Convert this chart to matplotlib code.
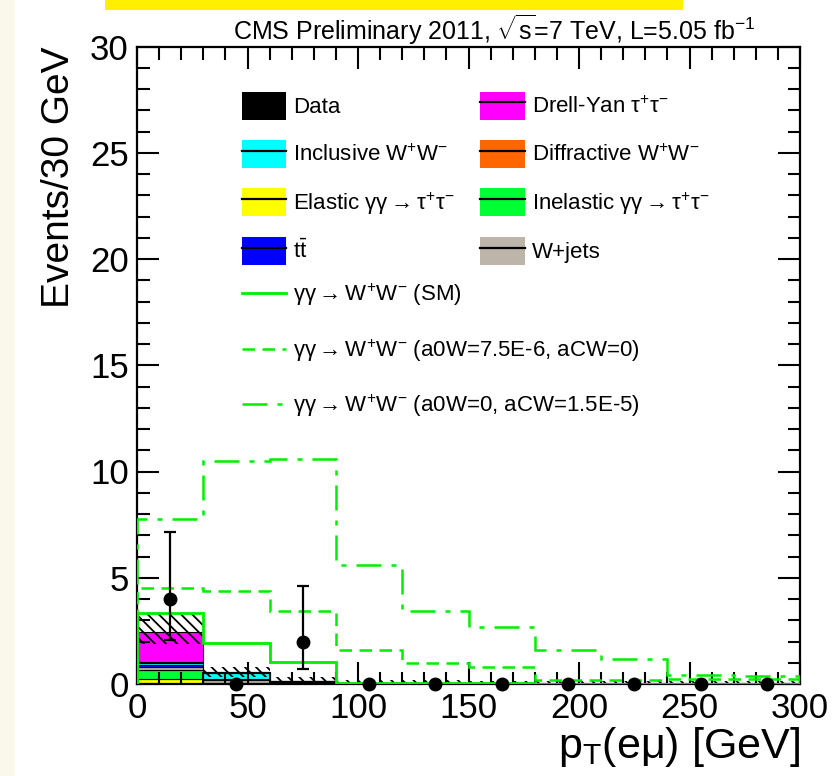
"""pT(e mu) distribution, CMS gamma gamma -> WW style stack plot."""

import matplotlib

matplotlib.use("Agg")
import matplotlib.pyplot as plt
import numpy as np
from matplotlib.lines import Line2D
from matplotlib.patches import Patch, Rectangle
from matplotlib.ticker import MultipleLocator

plt.rcParams["font.family"] = ["Liberation Sans", "DejaVu Sans"]
plt.rcParams["mathtext.fontset"] = "custom"
plt.rcParams["mathtext.rm"] = "Liberation Sans"
plt.rcParams["mathtext.it"] = "Liberation Sans:italic"
plt.rcParams["hatch.linewidth"] = 1.3

# --- data (events per 30 GeV bin) ---
bin_edges = [0, 30, 60, 90, 120, 150, 180, 210, 240, 270, 300]

elastic_tautau = [0.23, 0.01, 0.0, 0.0, 0.0, 0.0, 0.0, 0.0, 0.0, 0.0]
inelastic_tautau = [0.45, 0.02, 0.0, 0.0, 0.0, 0.0, 0.0, 0.0, 0.0, 0.0]
w_jets = [0.12, 0.15, 0.04, 0.0, 0.0, 0.0, 0.0, 0.0, 0.0, 0.0]
ttbar = [0.10, 0.05, 0.05, 0.01, 0.01, 0.0, 0.0, 0.0, 0.0, 0.0]
inclusive_ww = [0.10, 0.30, 0.05, 0.01, 0.01, 0.01, 0.0, 0.0, 0.0, 0.0]
diffractive_ww = [0.05, 0.02, 0.01, 0.0, 0.0, 0.0, 0.0, 0.0, 0.0, 0.0]
drell_yan = [1.40, 0.02, 0.0, 0.0, 0.0, 0.0, 0.0, 0.0, 0.0, 0.0]

unc_low = [1.90, 0.35, 0.0, 0.0, 0.0, 0.0, 0.0, 0.0, 0.0, 0.0]
unc_high = [3.35, 0.80, 0.35, 0.20, 0.20, 0.15, 0.15, 0.15, 0.15, 0.15]

sm_signal = [3.35, 1.93, 1.05, 0.04, 0.03, 0.03, 0.02, 0.02, 0.02, 0.02]
a0w_signal = [4.50, 4.40, 3.45, 1.60, 0.97, 0.80, 0.20, 0.20, 0.22, 0.22]
acw_signal = [7.77, 10.50, 10.60, 5.58, 3.45, 2.69, 1.60, 1.16, 0.42, 0.40]

data_x = [15, 45, 75, 105, 135, 165, 195, 225, 255, 285]
data_y = [4, 0, 2, 0, 0, 0, 0, 0, 0, 0]
data_err_lo = [1.91, 0, 1.29, 0, 0, 0, 0, 0, 0, 0]
data_err_hi = [3.16, 0, 2.63, 0, 0, 0, 0, 0, 0, 0]

arrow = "$\\rightarrow$"
stack = [
    (f"Elastic γγ{arrow}τ$^{{+}}$τ$^{{-}}$", elastic_tautau, "#ffff00"),
    (f"Inelastic γγ{arrow}τ$^{{+}}$τ$^{{-}}$", inelastic_tautau, "#00ff33"),
    ("W+jets", w_jets, "#beb5aa"),
    ("t$\\bar{\\rm t}$", ttbar, "#0000ff"),
    ("Inclusive W$^{+}$W$^{-}$", inclusive_ww, "#00ffff"),
    ("Diffractive W$^{+}$W$^{-}$", diffractive_ww, "#ff6600"),
    ("Drell-Yan τ$^{+}$τ$^{-}$", drell_yan, "#ff00ff"),
]
green = "#00ee00"

fig = plt.figure(figsize=(8.39, 7.76), dpi=100)
fig.patches.append(Rectangle((0, 0), 15 / 839, 1, transform=fig.transFigure,
                             facecolor="#faf8e8", edgecolor="none", zorder=-5))
fig.patches.append(Rectangle((105 / 839, 1 - 10 / 776), 578 / 839, 10 / 776,
                             transform=fig.transFigure, facecolor="#fff000",
                             edgecolor="none", zorder=-5))
ax = fig.add_axes([137 / 839, 1 - 684 / 776, 663 / 839, 637.5 / 776])

edges = np.asarray(bin_edges, dtype=float)
widths = np.diff(edges)
bottom = np.zeros(len(widths))
handles = {}
for label, values, color in stack:
    vals = np.asarray(values)
    ax.bar(edges[:-1], vals, width=widths, bottom=bottom, align="edge",
           color=color, edgecolor="black", linewidth=0.8, zorder=1)
    bottom += vals
    handles[label] = (Patch(facecolor=color, edgecolor="none"),
                      Line2D([], [], color="black", lw=1.6))

lo = np.asarray(unc_low)
hi = np.asarray(unc_high)
ax.bar(edges[:-1], hi - lo, width=widths, bottom=lo, align="edge", fill=False,
       hatch="\\\\\\", edgecolor="black", linewidth=0, zorder=2)

ax.stairs(sm_signal, edges, color=green, lw=2, zorder=3)
ax.stairs(a0w_signal, edges, color=green, lw=1.8, linestyle=(0, (5, 3)), zorder=3)
ax.stairs(acw_signal, edges, color=green, lw=1.8, linestyle=(0, (10, 4, 2, 4)), zorder=3)

ax.errorbar(data_x, data_y, yerr=[data_err_lo, data_err_hi], fmt="o", color="black",
            ms=9, elinewidth=1.6, capsize=4, capthick=1.6, zorder=4, clip_on=False)

ax.set_xlim(0, 300)
ax.set_ylim(0, 30)
ax.xaxis.set_major_locator(MultipleLocator(50))
ax.xaxis.set_minor_locator(MultipleLocator(10))
ax.yaxis.set_major_locator(MultipleLocator(5))
ax.yaxis.set_minor_locator(MultipleLocator(1))
ax.tick_params(which="both", direction="in", top=True, right=True, width=1.5)
ax.tick_params(which="major", length=16, labelsize=25, pad=6)
ax.tick_params(which="minor", length=9)
for spine in ax.spines.values():
    spine.set_linewidth(1.6)

ax.set_ylabel("Events/30 GeV", fontsize=28, loc="top", labelpad=9)
ax.set_xlabel("p$_{\\rm T}$(eμ) [GeV]", fontsize=31, loc="right", labelpad=0)
ax.set_title("CMS Preliminary 2011, $\\sqrt{\\rm s}$=7 TeV, L=5.05 fb$^{-1}$",
             fontsize=18, loc="right", pad=4, x=0.932)

data_handle = Patch(facecolor="black", edgecolor="none")
col1 = [("Data", data_handle)] + [(k, handles[k]) for k in (
    "Inclusive W$^{+}$W$^{-}$", f"Elastic γγ{arrow}τ$^{{+}}$τ$^{{-}}$",
    "t$\\bar{\\rm t}$")]
col2 = [(k, handles[k]) for k in (
    "Drell-Yan τ$^{+}$τ$^{-}$", "Diffractive W$^{+}$W$^{-}$",
    f"Inelastic γγ{arrow}τ$^{{+}}$τ$^{{-}}$", "W+jets")]
leg_kw = dict(frameon=False, fontsize=16, handlelength=2.0, handleheight=1.55,
              handletextpad=0.3, labelspacing=0.92, borderpad=0, borderaxespad=0,
              loc="upper left")
leg1 = ax.legend([h for _, h in col1], [l for l, _ in col1],
                 bbox_to_anchor=(0.158, 0.929), **leg_kw)
ax.add_artist(leg1)
leg2 = ax.legend([h for _, h in col2], [l for l, _ in col2],
                 bbox_to_anchor=(0.518, 0.929), **leg_kw)
ax.add_artist(leg2)

line_handles = [
    Line2D([], [], color=green, lw=2),
    Line2D([], [], color=green, lw=1.8, linestyle=(0, (5, 3))),
    Line2D([], [], color=green, lw=1.8, linestyle=(0, (10, 4, 2, 4))),
]
line_labels = [
    f"γγ{arrow}W$^{{+}}$W$^{{-}}$ (SM)",
    f"γγ{arrow}W$^{{+}}$W$^{{-}}$ (a0W=7.5E-6, aCW=0)",
    f"γγ{arrow}W$^{{+}}$W$^{{-}}$ (a0W=0, aCW=1.5E-5)",
]
ax.legend(line_handles, line_labels, frameon=False, fontsize=16, handlelength=2.0,
          handletextpad=0.3, labelspacing=1.3, borderpad=0, borderaxespad=0,
          loc="upper left", bbox_to_anchor=(0.158, 0.631))

fig.savefig("out.png", dpi=100)
